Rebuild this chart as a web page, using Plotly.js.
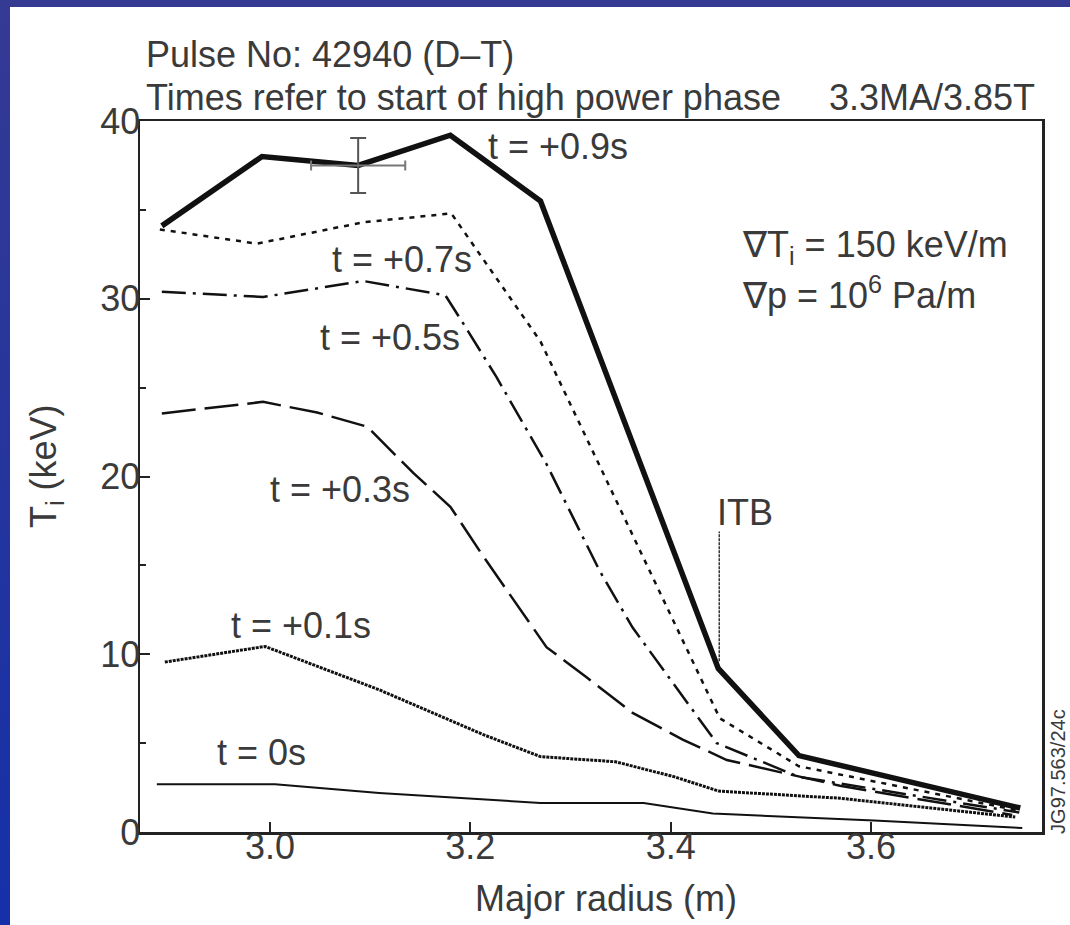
<!DOCTYPE html>
<html>
<head>
<meta charset="utf-8">
<script src="https://cdn.plot.ly/plotly-3.0.1.min.js"></script>
<style>
  html, body { margin: 0; padding: 0; width: 1070px; height: 925px; overflow: hidden;
    background: linear-gradient(to bottom, #353a93, #1530a8); }
  #chart { position: absolute; left: 10px; top: 7px; width: 1060px; height: 918px; background: #fff; }
</style>
</head>
<body>
<div id="chart"></div>
<script>
// Major radius (m) and ion temperature Ti (keV) for each time slice
const radius09 = [2.892, 2.992, 3.088, 3.180, 3.270, 3.4475, 3.528, 3.749];
const ti09     = [34.1, 38.0, 37.5, 39.2, 35.5, 9.2, 4.3, 1.35];

const radius07 = [2.890, 2.987, 3.093, 3.181, 3.270, 3.449, 3.528, 3.748];
const ti07     = [33.9, 33.1, 34.3, 34.8, 27.6, 6.4, 3.7, 1.2];

const radius05 = [2.892, 2.993, 3.093, 3.175, 3.193, 3.226, 3.276, 3.329, 3.362, 3.422, 3.446, 3.528, 3.748];
const ti05     = [30.4, 30.1, 31.0, 30.2, 28.6, 25.6, 20.7, 14.7, 11.5, 6.9, 5.0, 3.1, 1.1];

const radius03 = [2.892, 2.993, 3.047, 3.097, 3.143, 3.180, 3.213, 3.243, 3.276, 3.316, 3.362, 3.412, 3.456, 3.569, 3.741];
const ti03     = [23.55, 24.2, 23.6, 22.8, 20.2, 18.3, 15.5, 13.05, 10.4, 8.7, 6.7, 5.2, 4.05, 2.6, 0.96];

const radius01 = [2.895, 2.995, 3.109, 3.212, 3.270, 3.345, 3.404, 3.448, 3.569, 3.744];
const ti01     = [9.56, 10.44, 8.0, 5.5, 4.24, 3.95, 3.1, 2.3, 1.9, 0.84];

const radius00 = [2.887, 3.005, 3.109, 3.270, 3.373, 3.442, 3.603, 3.751];
const ti00     = [2.69, 2.69, 2.2, 1.63, 1.63, 1.04, 0.65, 0.22];

// error bar on the t=+0.9s profile
const errRadius = [3.088];
const errTi = [37.5];
const errTiSize = [1.55];
const errRadiusSize = [0.047];

// ITB marker line
const itbRadius = [3.4485, 3.4485];
const itbTi = [9.6, 16.9];

// axis ticks
const xTickVals = [3.0, 3.2, 3.4, 3.6];
const xTickText = ['3.0', '3.2', '3.4', '3.6'];
const yTickVals = [0, 10, 20, 30, 40];
const yTickText = ['0', '10', '20', '30', '40'];
const yMinorTicks = [5, 15, 25, 35];

// text labels
const curveLabels = ['t = +0.9s', 't = +0.7s', 't = +0.5s', 't = +0.3s', 't = +0.1s', 't = 0s'];
const headerLine1 = 'Pulse No: 42940 (D\u2013T)';
const headerLine2 = 'Times refer to start of high power phase';
const headerRight = '3.3MA/3.85T';
const gradTLabel = '\u2207T<sub>i</sub> = 150 keV/m';
const gradPLabel = '\u2207p = 10<sup>6</sup> Pa/m';
const itbLabel = 'ITB';
const xTitle = 'Major radius (m)';
const yTitle = 'T<sub>i</sub> (keV)';
const refCode = 'JG97.563/24c';

const FONT = '"Liberation Sans", Arial, Helvetica, sans-serif';
const TXT = '#3a3a3a';

function line(x, y, width, dash, color) {
  return { x: x, y: y, type: 'scatter', mode: 'lines', hoverinfo: 'skip',
           line: { color: color || '#111', width: width, dash: dash }, showlegend: false };
}

const traces = [
  line(radius00, ti00, 2, 'solid'),
  line(radius01, ti01, 3, '3px,1px'),
  line(radius03, ti03, 2.5, '34px,9px'),
  line(radius05, ti05, 2.5, '24px,7px,3px,7px'),
  line(radius07, ti07, 2.5, '5px,6px'),
  line(radius09, ti09, 5.5, 'solid'),
  line(itbRadius, itbTi, 1.5, '3px,1px', '#333'),
  { x: errRadius, y: errTi, type: 'scatter', mode: 'markers', hoverinfo: 'skip', showlegend: false,
    marker: { size: 2, color: 'rgba(0,0,0,0)' },
    error_y: { type: 'data', array: errTiSize, visible: true, color: '#555', thickness: 2, width: 8 },
    error_x: { type: 'data', array: errRadiusSize, visible: true, color: '#777', thickness: 2, width: 5 } }
];

function ann(text, x, y, opts) {
  return Object.assign({ text: text, x: x, y: y, xref: 'x', yref: 'y', showarrow: false,
    xanchor: 'left', yanchor: 'middle', font: { family: FONT, size: 36, color: TXT } }, opts || {});
}
function pann(text, x, y, opts) {
  return ann(text, x, y, Object.assign({ xref: 'paper', yref: 'paper' }, opts || {}));
}

const annotations = [
  pann(headerLine1, 0.004, 1.093),
  pann(headerLine2, 0.004, 1.033),
  pann(headerRight, 0.995, 1.033, { xanchor: 'right' }),
  ann(curveLabels[0], 3.216, 38.55),
  ann(curveLabels[1], 3.060, 32.2),
  ann(curveLabels[2], 3.048, 27.8),
  ann(curveLabels[3], 2.998, 19.25),
  ann(curveLabels[4], 2.959, 11.6),
  ann(curveLabels[5], 2.945, 4.45),
  ann(gradTLabel, 3.469, 32.9),
  ann(gradPLabel, 3.469, 30.35),
  ann(itbLabel, 3.444, 17.95),
  pann(refCode, 1.017, 0.085, { xanchor: 'center', textangle: -90, font: { family: FONT, size: 20, color: TXT } }),
  pann(xTitle, 0.517, -0.093, { xanchor: 'center' }),
  pann(yTitle, -0.104, 0.515, { xanchor: 'center', textangle: -90 })
];

const layout = {
  width: 1060, height: 918,
  margin: { l: 130, r: 28, t: 114, b: 93 },
  paper_bgcolor: '#ffffff', plot_bgcolor: '#ffffff',
  font: { family: FONT, color: TXT },
  showlegend: false,
  xaxis: {
    range: [2.8702, 3.7707], tickvals: xTickVals, ticktext: xTickText,
    ticks: 'inside', ticklen: 10, tickwidth: 2, tickcolor: '#222',
    showline: true, linecolor: '#222', linewidth: 2.5, mirror: true,
    showgrid: false, zeroline: false,
    ticklabelstandoff: -19,
    tickfont: { family: FONT, size: 36, color: TXT }
  },
  yaxis: {
    range: [0, 40], tickvals: yTickVals, ticktext: yTickText,
    ticks: 'inside', ticklen: 10, tickwidth: 2, tickcolor: '#222',
    minor: { tickvals: yMinorTicks, ticks: 'inside', ticklen: 6, tickwidth: 2, tickcolor: '#222' },
    showline: true, linecolor: '#222', linewidth: 2.5, mirror: true,
    showgrid: false, zeroline: false,
    ticklabelstandoff: -10,
    tickfont: { family: FONT, size: 36, color: TXT }
  },
  annotations: annotations
};

Plotly.newPlot('chart', traces, layout, { staticPlot: true, displayModeBar: false });
</script>
</body>
</html>
